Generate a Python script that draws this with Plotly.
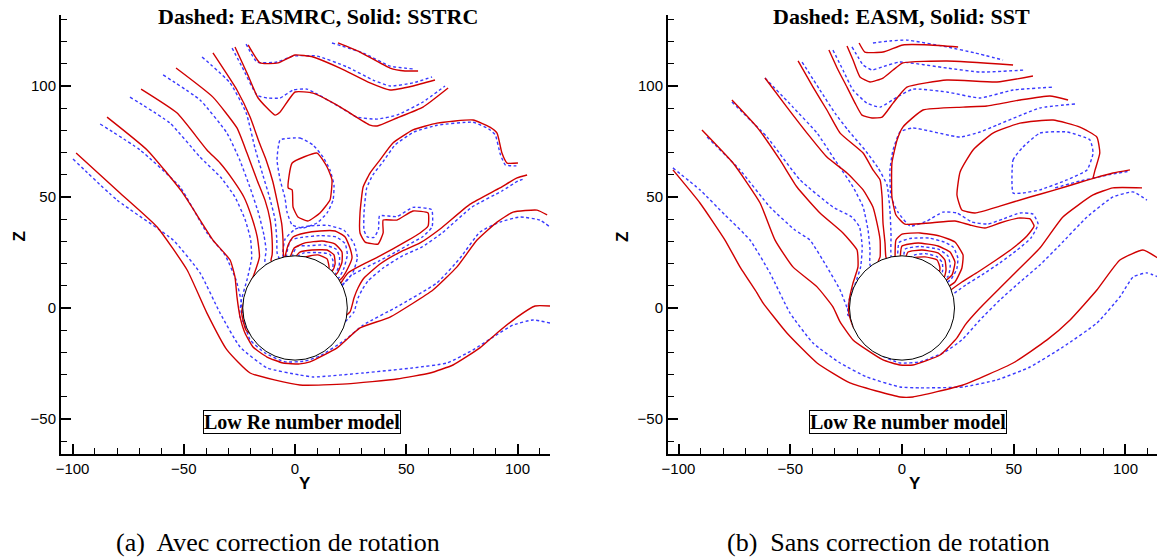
import plotly.graph_objects as go

# ---------------- data (Y, Z) ----------------
R_CYL = 23.5

# ---- panel (a): solid = SSTRC, dashed = EASMRC
A_SST_1 = [(-98.4,69.8),(-78.7,51.8),(-62.0,36.5),(-48.5,17.1),(-39.6,-2.3),(-30.6,-18.9),(-20.2,-29.3),(2.2,-34.7),(23.4,-34.2),(45.8,-32.0),(60.7,-29.3),(71.0,-25.7),(83.1,-18.0),(90.8,-11.3),(99.8,-4.1),(107.9,0.9),(114.6,0.9)]
A_EAS_1 = [(-99.8,67.1),(-80.0,48.6),(-54.8,30.6),(-42.7,15.8),(-33.7,-2.3),(-24.7,-17.6),(-12.6,-27.0),(2.2,-30.2),(8.1,-31.1),(30.6,-29.3),(53.0,-27.0),(68.3,-24.8),(80.0,-18.9),(89.0,-13.1),(98.0,-7.7),(107.0,-5.4),(114.6,-6.8)]
A_SST_2 = [(-84.5,86.0),(-66.5,71.2),(-50.8,52.3),(-36.9,30.6),(-29.2,21.6),(-27.0,14.0),(-26.1,5.0),(-24.7,-4.1),(-22.5,-11.3),(-18.9,-17.6),(-12.6,-22.1),(-5.4,-24.8),(2.2,-25.2),(6.7,-24.3),(18.9,-18.0),(29.2,-9.0),(42.7,-4.1),(62.0,8.1),(72.8,18.5),(81.8,30.6),(90.8,38.7),(98.0,43.2),(108.8,44.1),(113.3,41.9)]
A_EAS_2 = [(-87.6,82.9),(-69.7,71.2),(-51.7,54.5),(-39.6,33.8),(-31.5,23.9),(-26.5,12.6),(-24.3,3.6),(-23.2,-5.4),(-20.2,-14.4),(-13.5,-20.3),(-4.5,-24.3),(4.5,-23.9),(11.2,-21.6),(22.5,-14.4),(30.6,-7.7),(45.8,0.5),(63.8,11.3),(74.2,22.5),(83.1,34.2),(92.1,38.7),(101.1,41.0),(110.1,39.6),(114.6,36.5)]
A_SST_3 = [(-69.2,98.6),(-53.0,87.8),(-39.6,71.2),(-33.7,65.3),(-27.9,57.7),(-23.0,50.0),(-19.5,41.0),(-17.0,32.0),(-16.0,23.0),(-18.5,15.0),(-22.0,6.5),(-24.0,-2.0),(-22.0,-10.0),(-15.0,-15.0)]
A_EAS_3 = [(-74.2,95.0),(-56.2,83.3),(-42.7,68.0),(-33.5,59.0),(-27.0,50.0),(-22.5,40.0),(-20.0,31.0),(-19.5,22.5),(-21.5,13.0),(-24.0,4.0),(-24.8,-4.0),(-18.0,-12.0)]
A_SST_4 = [(-53.5,108.1),(-36.9,95.0),(-26.1,81.1),(-21.6,69.8),(-17.1,57.7),(-13.5,48.6),(-11.2,39.6),(-10.3,30.6),(-10.3,23.9),(-10.8,21.5),(-6.7,12.6)]
A_EAS_4 = [(-59.3,105.0),(-42.7,93.7),(-30.6,78.8),(-25.0,67.0),(-20.5,55.0),(-16.5,43.0),(-14.0,33.0),(-13.0,26.0),(-13.5,20.5),(-6.0,12.0)]
A_SST_5 = [(-36.9,114.9),(-26.1,98.2),(-20.2,86.0),(-16.0,74.3),(-13.0,66.7),(-10.0,57.0),(-7.8,47.0),(-6.0,38.0),(-5.4,30.6),(-5.2,24.0),(-2.2,14.9)]
A_EAS_5 = [(-41.8,113.1),(-29.2,101.4),(-22.0,88.0),(-18.0,72.0),(-14.5,60.0),(-11.5,50.0),(-9.0,40.0),(-8.2,31.0),(-8.0,24.5),(-3.0,14.0)]
A_SST_6 = [(-27.0,117.6),(-21.6,105.9),(-16.6,94.6),(-9.0,86.9),(-6.7,88.3),(0.0,97.3),(8.1,96.8),(18.9,91.4),(24.7,87.8),(33.7,82.4),(36.9,82.0),(45.8,85.6),(57.5,90.5),(68.8,99.1)]
A_EAS_6 = [(-28.3,117.1),(-23.8,108.6),(-17.1,95.9),(-12.6,94.6),(-6.7,94.6),(-0.9,98.2),(5.4,98.6),(20.2,90.5),(27.9,86.0),(36.9,85.1),(45.8,86.9),(57.5,92.8),(67.4,100.0)]
A_SST_7 = [(-21.1,118.5),(-15.7,110.4),(-7.6,110.4),(0.0,114.0),(8.1,113.1),(20.2,108.1),(33.7,101.4),(42.7,98.2),(53.0,100.0),(62.9,102.7)]
A_EAS_7 = [(-22.0,118.9),(-17.1,110.8),(-8.1,110.8),(-0.9,113.5),(9.9,113.5),(23.4,108.6),(35.1,102.7),(42.7,100.0),(53.0,101.4),(61.6,104.1)]
A_SST_8 = [(19.3,119.4),(29.2,115.3),(42.7,108.1),(49.4,106.8),(55.3,106.8)]
A_EAS_8 = [(16.6,119.4),(30.6,114.9),(42.7,109.0),(53.0,107.7)]
A_SST_9 = [(18.0,7.2),(23.8,15.8),(30.1,19.4),(37.3,23.0),(44.0,26.6),(50.3,30.2),(56.2,33.8),(59.8,36.9),(59.8,42.8),(53.0,43.7),(45.8,39.6),(39.6,39.6),(39.6,33.8),(37.3,28.8),(31.5,29.7),(29.2,33.8),(29.2,42.8),(30.6,54.5),(33.7,60.8),(38.2,66.7),(44.0,74.3),(53.0,80.2),(63.8,83.3),(80.0,84.7),(87.6,81.5),(90.8,78.8),(93.0,69.8),(95.3,65.3),(100.2,65.3)]
A_EAS_9 = [(18.0,6.0),(24.7,14.2),(31.0,17.8),(38.2,21.4),(44.9,25.0),(51.2,28.6),(57.5,32.2),(61.6,36.5),(61.4,44.3),(53.0,45.3),(45.8,41.2),(38.0,41.5),(37.5,35.5),(35.5,31.8),(32.5,32.0),(31.0,35.0),(31.0,43.0),(32.2,54.0),(35.0,60.0),(39.5,65.8),(45.0,73.5),(53.5,79.3),(63.8,82.3),(80.0,83.7),(87.0,80.7),(90.0,78.0),(92.2,69.5),(94.5,64.5),(99.5,64.0)]
A_SST_10 = [(20.2,-5.4),(24.7,-1.8),(26.5,4.5),(28.3,9.0),(31.0,13.5),(38.2,19.8),(47.2,25.2),(56.2,29.3),(65.2,35.6),(78.7,46.8),(92.1,54.1),(99.8,58.6),(104.3,59.9)]
A_EAS_10 = [(22.5,-6.3),(26.5,-1.8),(28.3,4.5),(30.1,8.1),(32.8,12.2),(39.6,18.0),(48.1,23.4),(57.1,27.5),(66.1,33.8),(79.6,45.5),(93.0,52.7),(100.2,57.2),(102.9,58.1)]
A_SST_LOOP = [(-1.3,65.3),(9.9,69.8),(14.4,63.5),(16.6,57.7),(15.7,48.6),(11.2,42.8),(5.8,39.2),(1.3,41.0),(-0.9,45.5),(-1.3,53.2),(-3.1,54.1),(-1.3,65.3)]
A_EAS_LOOP = [(-6.7,75.7),(2.2,76.6),(8.1,73.4),(12.6,68.0),(15.7,62.2),(17.5,55.4),(17.1,48.6),(14.4,42.8),(9.9,38.3),(3.6,36.0),(-1.3,37.4),(-3.6,43.2),(-4.5,49.5),(-6.7,57.7),(-8.1,66.7),(-6.7,75.7)]
A_SST_M1 = [(-3.0,18.0),(-4.5,22.5),(-3.1,28.4),(-0.9,32.0),(4.5,33.8),(11.2,34.7),(18.0,34.7),(22.5,32.0),(24.7,27.0),(25.6,22.5),(23.8,18.0),(21.1,13.5),(17.0,10.0)]
A_SST_M2 = [(-1.0,18.0),(-2.2,22.5),(-0.4,27.0),(4.5,29.3),(12.1,30.2),(18.0,28.8),(21.1,25.2),(21.1,20.7),(19.3,16.2),(16.0,12.0)]
A_SST_M3 = [(1.0,18.0),(0.0,22.5),(2.2,25.2),(7.6,26.1),(14.4,26.1),(17.5,23.9),(18.0,19.8),(16.6,16.2),(14.0,13.0)]
A_SST_M4 = [(3.0,19.0),(3.1,22.5),(10.3,23.9),(14.4,22.1),(15.3,18.0),(13.0,15.0)]
A_EAS_M0 = [(-4.0,18.0),(-5.5,24.0),(-4.5,31.0),(0.0,35.5),(7.0,37.0),(15.0,37.2),(22.0,35.0),(26.5,29.0),(28.0,22.5),(26.0,16.0),(23.0,12.0),(18.0,8.0)]
A_EAS_M1 = [(-2.5,18.0),(-3.8,24.0),(-2.0,30.5),(3.0,31.8),(11.5,32.6),(18.5,32.0),(22.5,29.0),(23.5,24.0),(22.0,18.0),(20.0,14.0),(16.0,10.0)]
A_EAS_M2 = [(0.0,18.0),(-1.0,24.0),(1.0,27.8),(6.0,28.0),(13.0,28.4),(18.5,26.5),(20.0,23.0),(19.8,19.0),(18.0,15.0),(15.0,11.0)]
A_EAS_M3 = [(2.0,18.0),(1.5,23.5),(4.0,24.8),(9.5,25.0),(15.5,24.3),(17.0,21.5),(17.0,18.0),(16.0,15.0),(13.0,12.0)]

# ---- panel (b): solid = SST, dashed = EASM
B_SST_1 = [(-102.5,62.2),(-90.4,47.3),(-79.2,30.6),(-72.5,18.5),(-64.9,6.8),(-62.2,2.3),(-51.5,-11.3),(-38.0,-24.8),(-23.3,-33.8),(-0.9,-40.1),(4.9,-40.1),(27.3,-34.7),(49.7,-24.8),(64.9,-14.4),(75.2,-5.4),(87.2,8.1),(97.5,21.6),(107.8,26.1),(114.5,22.5)]
B_EAS_1 = [(-102.5,63.1),(-90.4,53.2),(-79.2,41.9),(-68.0,30.6),(-59.1,15.8),(-50.1,-2.3),(-39.8,-15.8),(-27.7,-24.8),(-15.7,-31.1),(-0.9,-35.6),(8.1,-36.0),(27.3,-35.6),(42.5,-32.4),(57.3,-26.6),(72.0,-17.6),(87.2,-6.8),(97.5,5.0),(103.4,14.0),(109.6,15.8),(114.5,14.0)]
B_SST_2 = [(-89.5,80.2),(-75.6,65.3),(-63.5,47.3),(-56.8,30.6),(-48.8,18.5),(-38.0,9.5),(-30.9,0.5),(-27.7,-6.3),(-21.9,-14.4),(-15.7,-18.9),(-8.5,-23.4),(-0.9,-25.7),(4.9,-25.7),(17.0,-21.2),(24.6,-13.5),(28.2,-7.7),(34.9,0.0),(43.8,9.0),(52.8,18.0),(61.7,27.0),(72.0,41.0),(85.5,50.9),(94.4,54.1),(107.4,54.1)]
B_EAS_2 = [(-87.2,77.0),(-72.5,62.2),(-59.1,45.5),(-47.9,35.1),(-41.2,30.6),(-33.6,18.5),(-27.7,8.1),(-24.2,-0.9),(-21.0,-8.6),(-16.6,-15.8),(-9.8,-21.2),(-0.9,-24.8),(8.1,-24.3),(19.2,-19.8),(26.8,-14.4),(34.9,-5.4),(43.8,3.6),(52.8,11.7),(61.7,19.4),(70.7,28.4),(82.8,41.0),(94.4,50.0),(103.4,52.3),(109.6,48.6)]
B_SST_3 = [(-76.1,93.7),(-64.9,81.5),(-54.6,66.7),(-47.0,54.5),(-36.7,42.8),(-26.4,33.8),(-20.1,26.1),(-19.7,18.5),(-21.9,11.3),(-23.6,3.6),(-23.8,-2.3),(-21.5,-9.0),(-12.1,-12.2)]
B_EAS_3 = [(-76.1,92.8),(-60.4,77.0),(-45.6,57.7),(-30.9,45.5),(-22.5,41.0),(-19.0,36.5),(-17.8,27.5),(-18.5,18.5),(-20.8,11.3),(-23.3,5.0),(-24.2,-3.2),(-12.1,-9.9)]
B_SST_4 = [(-61.3,103.6),(-51.5,90.5),(-42.5,78.8),(-33.6,68.0),(-24.6,60.8),(-17.4,53.2),(-13.0,45.5),(-11.2,38.3),(-9.8,30.6),(-9.8,23.0),(-10.7,20.7),(-5.4,10.4)]
B_EAS_4 = [(-61.3,103.6),(-48.8,90.5),(-38.0,78.8),(-30.9,68.0),(-21.9,54.5),(-17.4,45.5),(-15.2,35.1),(-14.3,26.1),(-14.3,19.4),(-7.6,10.4)]
B_SST_5 = [(-46.5,111.3),(-39.8,99.5),(-33.6,89.2),(-27.7,78.8),(-17.4,69.8),(-13.0,62.2),(-9.8,57.7),(-8.9,50.0),(-8.5,38.3),(-7.6,29.3),(-7.2,23.0),(-3.1,12.6)]
B_EAS_5 = [(-44.7,110.8),(-36.7,98.2),(-30.0,87.8),(-24.2,80.2),(-16.6,71.2),(-10.7,63.1),(-6.7,55.4),(-5.4,44.1),(-4.9,32.9),(-4.9,23.4),(-1.8,13.5)]
B_SST_6 = [(-32.7,116.2),(-28.6,107.2),(-24.6,99.5),(-21.0,92.3),(-17.9,86.9),(-13.4,85.6),(-8.9,86.0),(-4.0,92.3),(2.2,99.5),(20.1,102.7),(42.5,101.8),(58.6,104.5)]
B_EAS_6 = [(-30.9,116.2),(-26.4,107.2),(-21.9,98.2),(-15.7,92.3),(-9.8,90.5),(-2.2,95.0),(4.9,98.6),(20.1,97.3),(34.9,94.6),(49.7,98.2),(67.6,99.5)]
B_SST_7 = [(-24.6,118.0),(-21.9,111.7),(-18.8,104.1),(-14.3,101.8),(-8.5,103.6),(-4.0,107.2),(0.4,110.4),(20.1,111.3),(49.7,109.5)]
B_EAS_7 = [(-22.4,117.6),(-19.7,113.1),(-17.4,109.5),(-13.4,107.2),(-8.9,108.6),(-0.9,110.8),(20.1,108.1),(34.9,106.3),(55.0,107.2)]
B_SST_8 = [(-19.2,119.4),(-16.6,115.3),(-8.5,115.3),(0.4,118.5),(12.5,118.5),(25.1,117.6)]
B_EAS_8 = [(-13.0,119.4),(-5.4,120.3),(2.2,120.7),(20.1,117.6),(32.7,114.9),(45.2,111.7)]
B_SST_9 = [(74.3,93.7),(66.2,95.5),(52.8,93.7),(38.0,91.0),(27.3,90.5),(9.4,89.2),(0.4,81.5),(-2.2,75.7),(-4.5,65.3),(-4.5,50.0),(-2.7,41.9),(1.3,37.8),(12.5,38.3),(23.7,39.2),(30.4,37.4),(37.1,36.0),(43.8,38.3),(51.9,40.5),(57.3,40.1),(59.1,36.9),(55.9,32.4),(49.7,27.0),(42.1,21.6),(34.0,16.2),(26.8,11.7),(20.6,7.2)]
B_EAS_9 = [(77.4,91.9),(61.7,90.1),(42.5,82.4),(34.9,79.3),(26.0,77.0),(4.9,81.1),(-0.9,79.3),(-4.0,71.2),(-5.4,62.2),(-4.9,50.0),(-1.8,43.2),(3.6,36.9),(11.2,39.2),(18.3,43.2),(24.6,42.8),(31.3,38.7),(38.5,37.8),(45.2,40.1),(52.8,42.8),(58.6,42.3),(60.9,37.8),(57.7,31.5),(51.5,26.1),(43.8,20.3),(35.8,14.9),(28.6,10.4),(22.4,5.9)]
B_SST_10 = [(102.0,62.2),(94.4,60.8),(86.4,58.6),(78.7,56.3),(68.5,53.2),(57.3,50.0),(43.8,45.9),(32.7,42.8),(26.8,44.1),(24.6,50.9),(26.0,61.3),(31.8,71.2),(40.7,78.8),(52.8,83.3),(67.6,84.7),(79.6,81.5),(87.2,77.0),(88.5,69.8),(86.4,62.2),(85.5,58.6)]
B_EAS_10 = [(49.7,51.8),(49.7,66.7),(54.1,72.5),(61.7,78.8),(73.8,79.3),(84.1,75.7),(85.5,69.8),(82.8,62.2),(73.8,57.7),(61.7,53.2),(54.1,51.8),(49.7,51.8)]
B_EAS_11 = [(68.5,54.1),(79.6,57.2),(92.1,59.9),(102.0,61.7)]
B_SST_M1 = [(-3.1,20.7),(-2.7,30.6),(0.0,33.3),(8.1,33.8),(17.0,32.4),(23.7,29.7),(27.3,23.9),(26.8,18.0),(23.7,11.7),(18.0,8.0)]
B_SST_M2 = [(-0.9,20.7),(0.0,27.9),(7.2,29.3),(16.1,27.9),(21.5,25.2),(23.7,20.7),(22.4,14.9),(18.0,11.0)]
B_SST_M3 = [(1.3,21.6),(2.7,25.2),(8.9,26.1),(16.1,24.8),(19.2,21.6),(19.7,17.1),(18.8,13.5),(15.0,11.0)]
B_SST_M4 = [(4.5,20.0),(4.5,22.5),(10.3,23.0),(15.7,21.6),(17.0,18.0),(16.1,13.5),(13.0,11.0)]
B_EAS_M1 = [(-2.0,22.0),(-1.3,29.5),(3.5,31.3),(12.0,31.5),(19.5,29.5),(23.0,27.3),(25.0,22.5),(24.5,17.5),(22.0,13.0),(17.0,9.0)]
B_EAS_M2 = [(0.5,21.5),(1.5,26.6),(8.0,27.7),(16.5,26.4),(20.5,23.5),(21.6,19.5),(20.8,14.5),(17.0,11.0)]
B_EAS_M3 = [(3.0,20.0),(3.0,22.0),(6.0,24.0),(10.5,24.5),(15.5,23.2),(18.0,20.5),(18.2,17.0),(17.3,13.5),(14.0,11.0)]

PANEL_A_SOLID = [A_SST_1, A_SST_2, A_SST_3, A_SST_4, A_SST_5, A_SST_6, A_SST_7, A_SST_8, A_SST_9, A_SST_10,
                 A_SST_LOOP, A_SST_M1, A_SST_M2, A_SST_M3, A_SST_M4]
PANEL_A_DASH = [A_EAS_1, A_EAS_2, A_EAS_3, A_EAS_4, A_EAS_5, A_EAS_6, A_EAS_7, A_EAS_8, A_EAS_9, A_EAS_10,
                A_EAS_LOOP, A_EAS_M0, A_EAS_M1, A_EAS_M2, A_EAS_M3]
PANEL_B_SOLID = [B_SST_1, B_SST_2, B_SST_3, B_SST_4, B_SST_5, B_SST_6, B_SST_7, B_SST_8, B_SST_9, B_SST_10,
                 B_SST_M1, B_SST_M2, B_SST_M3, B_SST_M4]
PANEL_B_DASH = [B_EAS_1, B_EAS_2, B_EAS_3, B_EAS_4, B_EAS_5, B_EAS_6, B_EAS_7, B_EAS_8, B_EAS_9, B_EAS_10,
                B_EAS_11, B_EAS_M1, B_EAS_M2, B_EAS_M3]

TITLES = ["Dashed: EASMRC, Solid: SSTRC", "Dashed: EASM, Solid: SST"]
CAPTIONS = ["(a)  Avec correction de rotation", "(b)  Sans correction de rotation"]
BOX_TEXT = "Low Re number model"
X_TICKS = [-100, -50, 0, 50, 100]
Z_TICKS = [-50, 0, 50, 100]

# ---------------- figure ----------------
RED = "#d00000"
BLUE = "#3a3aff"
W, H = 1160, 557

fig = go.Figure()

def add_lines(lines, color, dash, xa, ya, width):
    for ln in lines:
        fig.add_trace(go.Scatter(
            x=[p[0] for p in ln], y=[p[1] for p in ln], mode="lines",
            line=dict(color=color, width=width, dash=dash, shape="spline", smoothing=0.45),
            xaxis=xa, yaxis=ya, showlegend=False, hoverinfo="skip"))

add_lines(PANEL_A_DASH, BLUE, "3px,2.5px", "x", "y", 1.4)
add_lines(PANEL_A_SOLID, RED, "solid", "x", "y", 1.4)
add_lines(PANEL_B_DASH, BLUE, "3px,2.5px", "x2", "y2", 1.4)
add_lines(PANEL_B_SOLID, RED, "solid", "x2", "y2", 1.4)

for xr, yr in (("x", "y"), ("x2", "y2")):
    fig.add_shape(type="circle", xref=xr, yref=yr, x0=-R_CYL, x1=R_CYL, y0=-R_CYL, y1=R_CYL,
                  line=dict(color="black", width=1), fillcolor="white", layer="above")

axis_common = dict(
    showline=True, linecolor="black", linewidth=2, mirror=False, automargin=False,
    ticks="inside", ticklen=10, tickwidth=1.5, tickcolor="black",
    minor=dict(ticks="inside", ticklen=6, tickwidth=1, tickcolor="black", dtick=10, showgrid=False),
    showgrid=False, zeroline=False,
    tickfont=dict(family="Liberation Sans, Arial", size=15, color="black"),
)

yd = [(557 - 454) / H, (557 - 15) / H]
fig.update_layout(
    width=W, height=H, margin=dict(l=0, r=0, t=0, b=0, autoexpand=False),
    paper_bgcolor="white", plot_bgcolor="white",
    xaxis=dict(domain=[61 / W, 550 / W], range=[-105.2, 114.6], tickvals=X_TICKS, anchor="y", **axis_common),
    yaxis=dict(domain=yd, range=[-65.8, 132.0], tickvals=Z_TICKS, anchor="x", **axis_common),
    xaxis2=dict(domain=[668 / W, 1157 / W], range=[-104.7, 114.1], tickvals=X_TICKS, anchor="y2", **axis_common),
    yaxis2=dict(domain=yd, range=[-65.8, 132.0], tickvals=Z_TICKS, anchor="x2", **axis_common),
)

serif = "Liberation Serif, Times New Roman, serif"
sans = "Liberation Sans, Arial, sans-serif"
ann = []
def A(x, y, **kw):
    d = dict(x=x / W, y=1 - y / H, xref="paper", yref="paper", showarrow=False,
             xanchor="center", yanchor="middle")
    d.update(kw)
    ann.append(d)

for i, (tcx, boxx, zx, yx, capx) in enumerate([(318, 302, 18.5, 305, 278), (901, 908, 622, 915, 888)]):
    A(tcx, 17, text="<b>" + TITLES[i] + "</b>", font=dict(family=serif, size=22, color="black"))
    A(boxx, 422, text="<b>" + BOX_TEXT + "</b>", font=dict(family=serif, size=20, color="black"),
      bordercolor="black", borderwidth=1, borderpad=0, bgcolor="white")
    A(zx, 237, text="<b>Z</b>", textangle=-90, font=dict(family=sans, size=17, color="black"))
    A(yx, 483, text="<b>Y</b>", font=dict(family=sans, size=17, color="black"))
    A(capx, 542, text=CAPTIONS[i], font=dict(family=serif, size=26, color="black"))
fig.update_layout(annotations=ann)

fig.write_html("out.html")
